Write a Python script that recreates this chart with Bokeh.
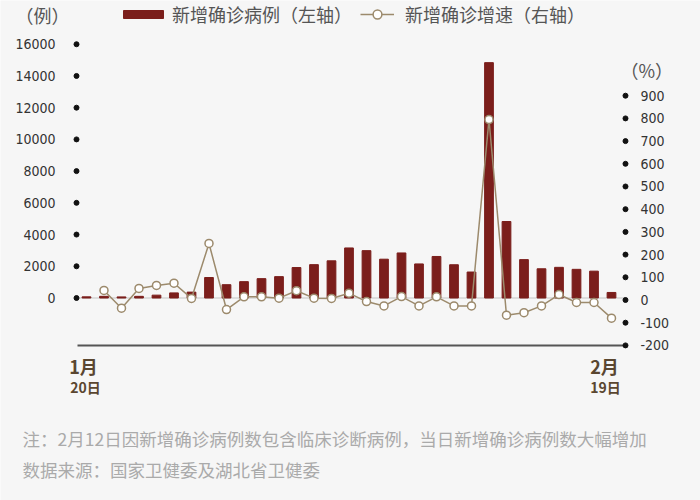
from bokeh.plotting import figure
from bokeh.models import Range1d, Legend, LegendItem, Label
from bokeh.core.properties import value
from bokeh.embed import file_html
from bokeh.resources import INLINE

# ---------------- data ----------------
dates = ["1月20日", "1月21日", "1月22日", "1月23日", "1月24日", "1月25日", "1月26日",
         "1月27日", "1月28日", "1月29日", "1月30日", "1月31日", "2月1日", "2月2日",
         "2月3日", "2月4日", "2月5日", "2月6日", "2月7日", "2月8日", "2月9日",
         "2月10日", "2月11日", "2月12日", "2月13日", "2月14日", "2月15日", "2月16日",
         "2月17日", "2月18日", "2月19日"]
new_cases = [72, 105, 69, 105, 180, 323, 371, 1291, 840, 1032, 1220, 1347, 1921, 2103,
             2345, 3156, 2987, 2447, 2841, 2147, 2618, 2097, 1638, 14840, 4823, 2420,
             1843, 1933, 1807, 1693, 349]
growth = [float("nan"), 42, -36, 51, 64, 74, 7, 249, -42, 14, 14, 8, 41, 8,
          7, 30, -7, -26, 15, -26, 14, -26, -26, 795, -67, -56,
          -26, 24, -11, -11, -80]
left_ticks = [0, 2000, 4000, 6000, 8000, 10000, 12000, 14000, 16000]
right_ticks = [-200, -100, 0, 100, 200, 300, 400, 500, 600, 700, 800, 900]
month_ticks = [0, 30]
month_labels = ["1月", "2月"]
day_labels = ["20日", "19日"]
bar_label = "新增确诊病例（左轴）"
line_label = "新增确诊增速（右轴）"
left_unit = "（例）"
right_unit = "（%）"
note = "注：2月12日因新增确诊病例数包含临床诊断病例，当日新增确诊病例数大幅增加"
source_note = "数据来源：国家卫健委及湖北省卫健委"

# ---------------- style ----------------
BG = "#f6f6f6"
BAR = "#7b1e1b"
LINE = "#9c8a6c"
NUM_FONT = "'Liberation Sans Narrow', 'DejaVu Sans Condensed', 'Roboto Condensed', 'Liberation Sans', sans-serif"
CJK = "'Noto Sans CJK SC', sans-serif"
BROWN = "#5a4630"

idx = list(range(len(dates)))

# the plot frame covers the whole canvas; scales map data to the reference layout
p = figure(width=700, height=500,
           x_range=Range1d(-4.914, 35.086), y_range=Range1d(-12768, 18758),
           x_axis_type=None, y_axis_type=None,
           output_backend="svg", toolbar_location=None,
           min_border=0, background_fill_color=BG, border_fill_color=BG,
           outline_line_color=None)
p.extra_y_ranges = {"right": Range1d(-883.3, 1319.4)}
p.grid.visible = False

# zero line
p.segment(x0=[-0.571], y0=[0], x1=[30.8], y1=[0], line_color="#c4c4c4", line_width=1)

# bars
bars = p.vbar(x=idx, top=new_cases, width=0.5, fill_color=BAR, line_color=BAR)

# bottom axis line (at right-axis minimum)
p.segment(x0=[-0.514], y0=[right_ticks[0]], x1=[30.8], y1=[right_ticks[0]],
          y_range_name="right", line_color="#555555", line_width=2)

# left axis: dots + labels
p.scatter(x=[-0.571] * len(left_ticks), y=left_ticks, size=5,
          fill_color="#111111", line_color="#111111")
p.text(x=[-1.771] * len(left_ticks), y=left_ticks, text=[str(t) for t in left_ticks],
       text_align="right", text_baseline="middle", text_font=value(NUM_FONT),
       text_font_size=value("14px"), text_color="#333333")

# right axis: dots + labels
p.scatter(x=[30.8] * len(right_ticks), y=right_ticks, size=5,
          fill_color="#111111", line_color="#111111", y_range_name="right")
p.text(x=[31.657] * len(right_ticks), y=right_ticks, text=[str(t) for t in right_ticks],
       text_align="left", text_baseline="middle", text_font=value(NUM_FONT),
       text_font_size=value("14px"), text_color="#333333", y_range_name="right")

# growth line
gl = p.line(x=idx, y=growth, y_range_name="right", line_color=LINE, line_width=1.5)
gc = p.scatter(x=idx, y=growth, y_range_name="right", size=8, fill_color="white",
               line_color=LINE, line_width=1.5)

# legends
leg1 = Legend(items=[LegendItem(label=bar_label, renderers=[bars])],
              location=(118, 473), orientation="horizontal",
              glyph_width=50, glyph_height=10, label_standoff=4, padding=0, margin=0, spacing=0,
              label_text_font=CJK, label_text_font_size="18px", label_text_color="#555555",
              background_fill_alpha=0, border_line_alpha=0, label_height=18)
leg2 = Legend(items=[LegendItem(label=line_label, renderers=[gl, gc])],
              location=(360, 473), orientation="horizontal",
              glyph_width=34, glyph_height=22, label_standoff=11, padding=0, margin=0, spacing=0,
              label_text_font=CJK, label_text_font_size="18px", label_text_color="#555555",
              background_fill_alpha=0, border_line_alpha=0, label_height=18)
p.add_layout(leg1)
p.add_layout(leg2)

# unit texts
p.add_layout(Label(x=15, y=486, x_units="screen", y_units="screen", text=left_unit,
                   text_font=CJK, text_font_size="18px", text_color="#555555",
                   text_baseline="middle"))
p.add_layout(Label(x=620, y=431, x_units="screen", y_units="screen", text=right_unit,
                   text_font=CJK, text_font_size="18px", text_color="#555555",
                   text_baseline="middle"))

# date labels under the axis line
for t, m, d, mo, do in zip(month_ticks, month_labels, day_labels, [-3, -7], [-1, -6]):
    p.add_layout(Label(x=t, y=135, x_units="data", y_units="screen", text=m,
                       x_offset=mo, text_align="center", text_baseline="middle",
                       text_font=CJK, text_font_style="bold", text_font_size="18px",
                       text_color=BROWN))
    p.add_layout(Label(x=t, y=114, x_units="data", y_units="screen", text=d,
                       x_offset=do, text_align="center", text_baseline="middle",
                       text_font=CJK, text_font_style="bold", text_font_size="14px",
                       text_color=BROWN))

# notes
p.add_layout(Label(x=22, y=62, x_units="screen", y_units="screen", text=note,
                   text_font=CJK, text_font_size="17.5px", text_color="#aaaaaa",
                   text_baseline="middle"))
p.add_layout(Label(x=22, y=31, x_units="screen", y_units="screen", text=source_note,
                   text_font=CJK, text_font_size="17.5px", text_color="#aaaaaa",
                   text_baseline="middle"))

open("out.html", "w").write(file_html(p, INLINE))
